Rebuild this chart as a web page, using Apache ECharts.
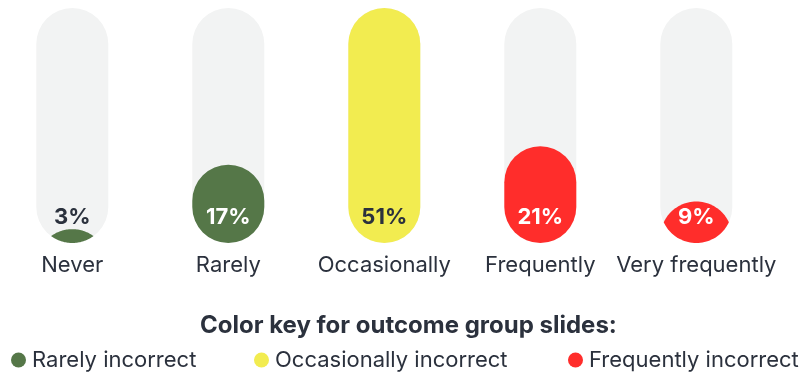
<!DOCTYPE html>
<html>
<head>
<meta charset="utf-8">
<style>
  html, body { margin: 0; padding: 0; background: #ffffff; }
  #chart { width: 804px; height: 373px; }
</style>
<script src="https://cdn.jsdelivr.net/npm/echarts@6/dist/echarts.min.js"></script>
</head>
<body>
<div id="chart"></div>
<script>
// Answer categories and the share of responses in each
const categories = ['Never', 'Rarely', 'Occasionally', 'Frequently', 'Very frequently'];
const shares = [3, 17, 51, 21, 9];
// Outcome group each category belongs to (index into groupNames)
const groupOf = [0, 0, 1, 2, 2];
const groupNames = ['Rarely incorrect', 'Occasionally incorrect', 'Frequently incorrect'];
const scaleMax = 51;

const GROUP_COLORS = ['#557748', '#f2ec50', '#ff2d2b'];
const TRACK_COLOR = '#f2f3f3';
const INK = '#2b313d';
const FONT = 'Inter, "Noto Sans", sans-serif';
const PILL_W = 72;

// Lens-shaped polygon: the part of a pill's bottom cap that lies under a
// pill cap shifted down to the value level (used when the fill is shorter
// than the pill's width).
function lensPoints(cx, cyTop, cyBottom, r) {
  const a = Math.asin(Math.min(1, (cyTop - cyBottom) / (2 * r)));
  const pts = [];
  const n = 40;
  for (let k = 0; k <= n; k++) {
    const t = Math.PI + a + (Math.PI - 2 * a) * k / n;
    pts.push([cx + r * Math.cos(t), cyTop + r * Math.sin(t)]);
  }
  for (let k = 0; k <= n; k++) {
    const t = a + (Math.PI - 2 * a) * k / n;
    pts.push([cx + r * Math.cos(t), cyBottom + r * Math.sin(t)]);
  }
  return pts;
}

function renderPill(params, api) {
  const idx = api.value(0);
  const val = api.value(1);
  const base = api.coord([idx, 0]);
  const top = api.coord([idx, scaleMax]);
  const lvl = api.coord([idx, val]);
  const r = PILL_W / 2;
  const cx = base[0];
  const bottom = base[1];
  const h = bottom - lvl[1];
  const color = GROUP_COLORS[groupOf[idx]];

  const children = [{
    type: 'rect',
    shape: { x: cx - r, y: top[1], width: PILL_W, height: bottom - top[1], r: r },
    style: { fill: TRACK_COLOR }
  }];

  if (h >= PILL_W) {
    children.push({
      type: 'rect',
      shape: { x: cx - r, y: lvl[1], width: PILL_W, height: h, r: r },
      style: { fill: color }
    });
  } else if (h > 0) {
    children.push({
      type: 'polygon',
      shape: { points: lensPoints(cx, lvl[1] + r, bottom - r, r) },
      style: { fill: color }
    });
  }

  const labelY = bottom - 25.5;
  const onFill = h >= (bottom - labelY) + 8;
  const labelColor = (!onFill || groupOf[idx] === 1) ? INK : '#ffffff';
  children.push({
    type: 'text',
    x: cx,
    y: labelY,
    style: {
      text: val + '%',
      fill: labelColor,
      font: '700 22px ' + FONT,
      align: 'center',
      verticalAlign: 'middle'
    }
  });

  return { type: 'group', children: children };
}

const chart = echarts.init(document.getElementById('chart'), null, { renderer: 'canvas' });

const legendSpots = [11, 254, 568];

chart.setOption({
  animation: false,
  title: {
    text: 'Color key for outcome group slides:',
    left: 200,
    top: 314,
    padding: 0,
    textStyle: { fontFamily: FONT, fontSize: 24, fontWeight: 700, color: INK }
  },
  legend: groupNames.map((name, i) => ({
    data: [name],
    left: legendSpots[i],
    top: 349,
    padding: 0,
    icon: 'circle',
    itemWidth: 15,
    itemHeight: 15,
    selectedMode: false,
    textStyle: { fontFamily: FONT, fontSize: 22, color: INK, padding: [0, 0, 0, 1] }
  })),
  grid: { left: -5.7, width: 780, top: 8, bottom: 130, containLabel: false, outerBoundsMode: 'none' },
  xAxis: {
    type: 'category',
    data: categories,
    axisLine: { show: false },
    axisTick: { show: false },
    axisLabel: { fontFamily: FONT, fontSize: 22, color: INK, margin: 11, interval: 0 }
  },
  yAxis: {
    type: 'value',
    min: 0,
    max: scaleMax,
    show: false
  },
  series: [
    {
      type: 'custom',
      name: 'Share',
      renderItem: renderPill,
      data: shares.map((v, i) => [i, v]),
      encode: { x: 0, y: 1 },
      clip: false
    }
  ].concat(groupNames.map((name, i) => ({
    type: 'custom',
    name: name,
    itemStyle: { color: GROUP_COLORS[i] },
    renderItem: () => ({ type: 'group', children: [] }),
    data: []
  })))
});
</script>
</body>
</html>
